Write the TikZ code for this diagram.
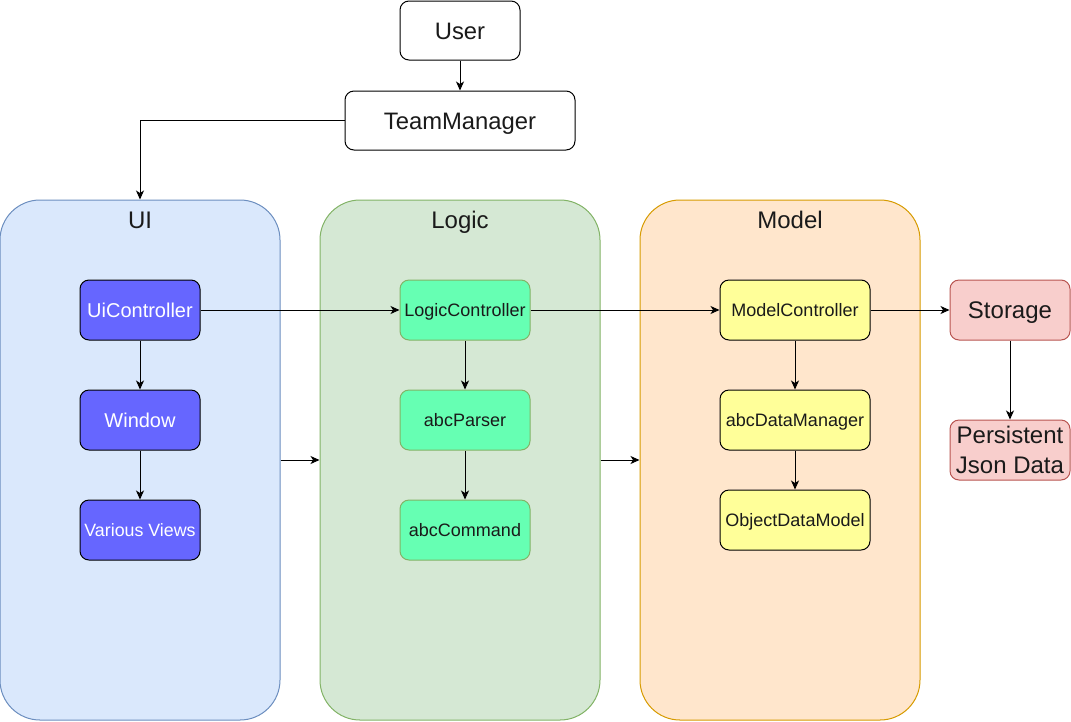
\documentclass[tikz,border=0pt]{standalone}
\usepackage{fontspec}
\setmainfont{Liberation Sans}
\usetikzlibrary{arrows.meta}
\definecolor{uifill}{HTML}{DAE8FC}
\definecolor{uistroke}{HTML}{6C8EBF}
\definecolor{lgfill}{HTML}{D5E8D4}
\definecolor{lgstroke}{HTML}{82B366}
\definecolor{mdfill}{HTML}{FFE6CC}
\definecolor{mdstroke}{HTML}{D79B00}
\definecolor{uibox}{HTML}{6666FF}
\definecolor{lgbox}{HTML}{66FFB3}
\definecolor{mdbox}{HTML}{FFFF99}
\definecolor{stfill}{HTML}{F8CECC}
\definecolor{ststroke}{HTML}{B85450}
\definecolor{ink}{HTML}{1A1A1A}
\begin{document}
\begin{tikzpicture}[x=1pt,y=-1pt,
  box/.style={draw, line width=1pt, rounded corners=9pt, inner sep=0pt, minimum height=60pt, text=ink},
  container/.style={draw, line width=1pt, rounded corners=40pt, inner sep=0pt, minimum width=280pt, minimum height=520pt},
  big/.style={font=\fontsize{24}{28}\selectfont, text height=17.2pt, text depth=0pt},
  mid/.style={font=\fontsize{20}{24}\selectfont, text height=14.3pt, text depth=0pt},
  small/.style={font=\fontsize{18}{21}\selectfont, text height=12.9pt, text depth=0pt},
  vsmall/.style={font=\fontsize{17.8}{21}\selectfont, text height=12.8pt, text depth=0pt},
  title/.style={font=\fontsize{24}{28}\selectfont, anchor=base, inner sep=0pt, text=ink},
  uib/.style={box, fill=uibox, draw=black, text=white, minimum width=120pt},
  lgb/.style={box, fill=lgbox, draw=lgstroke, minimum width=130pt},
  mdb/.style={box, fill=mdbox, draw=black, minimum width=150pt},
  stb/.style={box, fill=stfill, draw=ststroke, minimum width=120pt},
  arr/.style={line width=1pt, -{Stealth[length=9pt,width=8pt,inset=2.5pt]}}
]
\useasboundingbox (0,0) rectangle (1071,721);

% containers
\node[container, fill=uifill, draw=uistroke] (ui) at (140,460) {};
\node[container, fill=lgfill, draw=lgstroke] (logic) at (460,460) {};
\node[container, fill=mdfill, draw=mdstroke] (model) at (780,460) {};
\node[title] (uit) at (140,228) {UI};
\node[title] (lgt) at (460,228) {Logic};
\node[title] (mdt) at (790,228) {Model};

% top
\node[box, fill=white, draw=black, minimum width=120pt, minimum height=59pt, big, font=\fontsize{23.8}{28}\selectfont] (user) at (460,30.5) {User};
\node[box, fill=white, draw=black, minimum width=230pt, minimum height=59pt, big, font=\fontsize{23.8}{28}\selectfont] (tm) at (460,120.5) {TeamManager};

% UI
\node[uib, mid] (uic) at (140,310) {UiController};
\node[uib, mid] (win) at (140,420) {Window};
\node[uib, vsmall] (vv) at (140,530) {Various Views};

% Logic
\node[lgb, small] (lc) at (465,310) {LogicController};
\node[lgb, small] (ap) at (465,420) {abcParser};
\node[lgb, small] (ac) at (465,530) {abcCommand};

% Model
\node[mdb, small] (mc) at (795,310) {ModelController};
\node[mdb, small] (adm) at (795,420) {abcDataManager};
\node[mdb, small] (odm) at (795,520) {ObjectDataModel};

% Storage
\node[stb, big] (st) at (1010,310) {Storage};
\node[stb] (pjd) at (1010,450) {};
\node[font=\fontsize{24}{28}\selectfont, anchor=base, inner sep=0pt, text=ink] (pjd1) at (1010,443) {Persistent};
\node[font=\fontsize{24}{28}\selectfont, anchor=base, inner sep=0pt, text=ink] (pjd2) at (1010,473) {Json Data};

% connectors
\draw[arr] (user) -- (tm);
\draw[arr] (tm.west) -| (ui.north);
\draw[arr] (uic) -- (lc);
\draw[arr] (lc) -- (mc);
\draw[arr] (mc) -- (st);
\draw[arr] (st) -- (pjd);
\draw[arr] (uic) -- (win);
\draw[arr] (win) -- (vv);
\draw[arr] (lc) -- (ap);
\draw[arr] (ap) -- (ac);
\draw[arr] (mc) -- (adm);
\draw[arr] (adm) -- (odm);
\draw[arr] (ui.east) -- (logic.west);
\draw[arr] (logic.east) -- (model.west);
\end{tikzpicture}
\end{document}
